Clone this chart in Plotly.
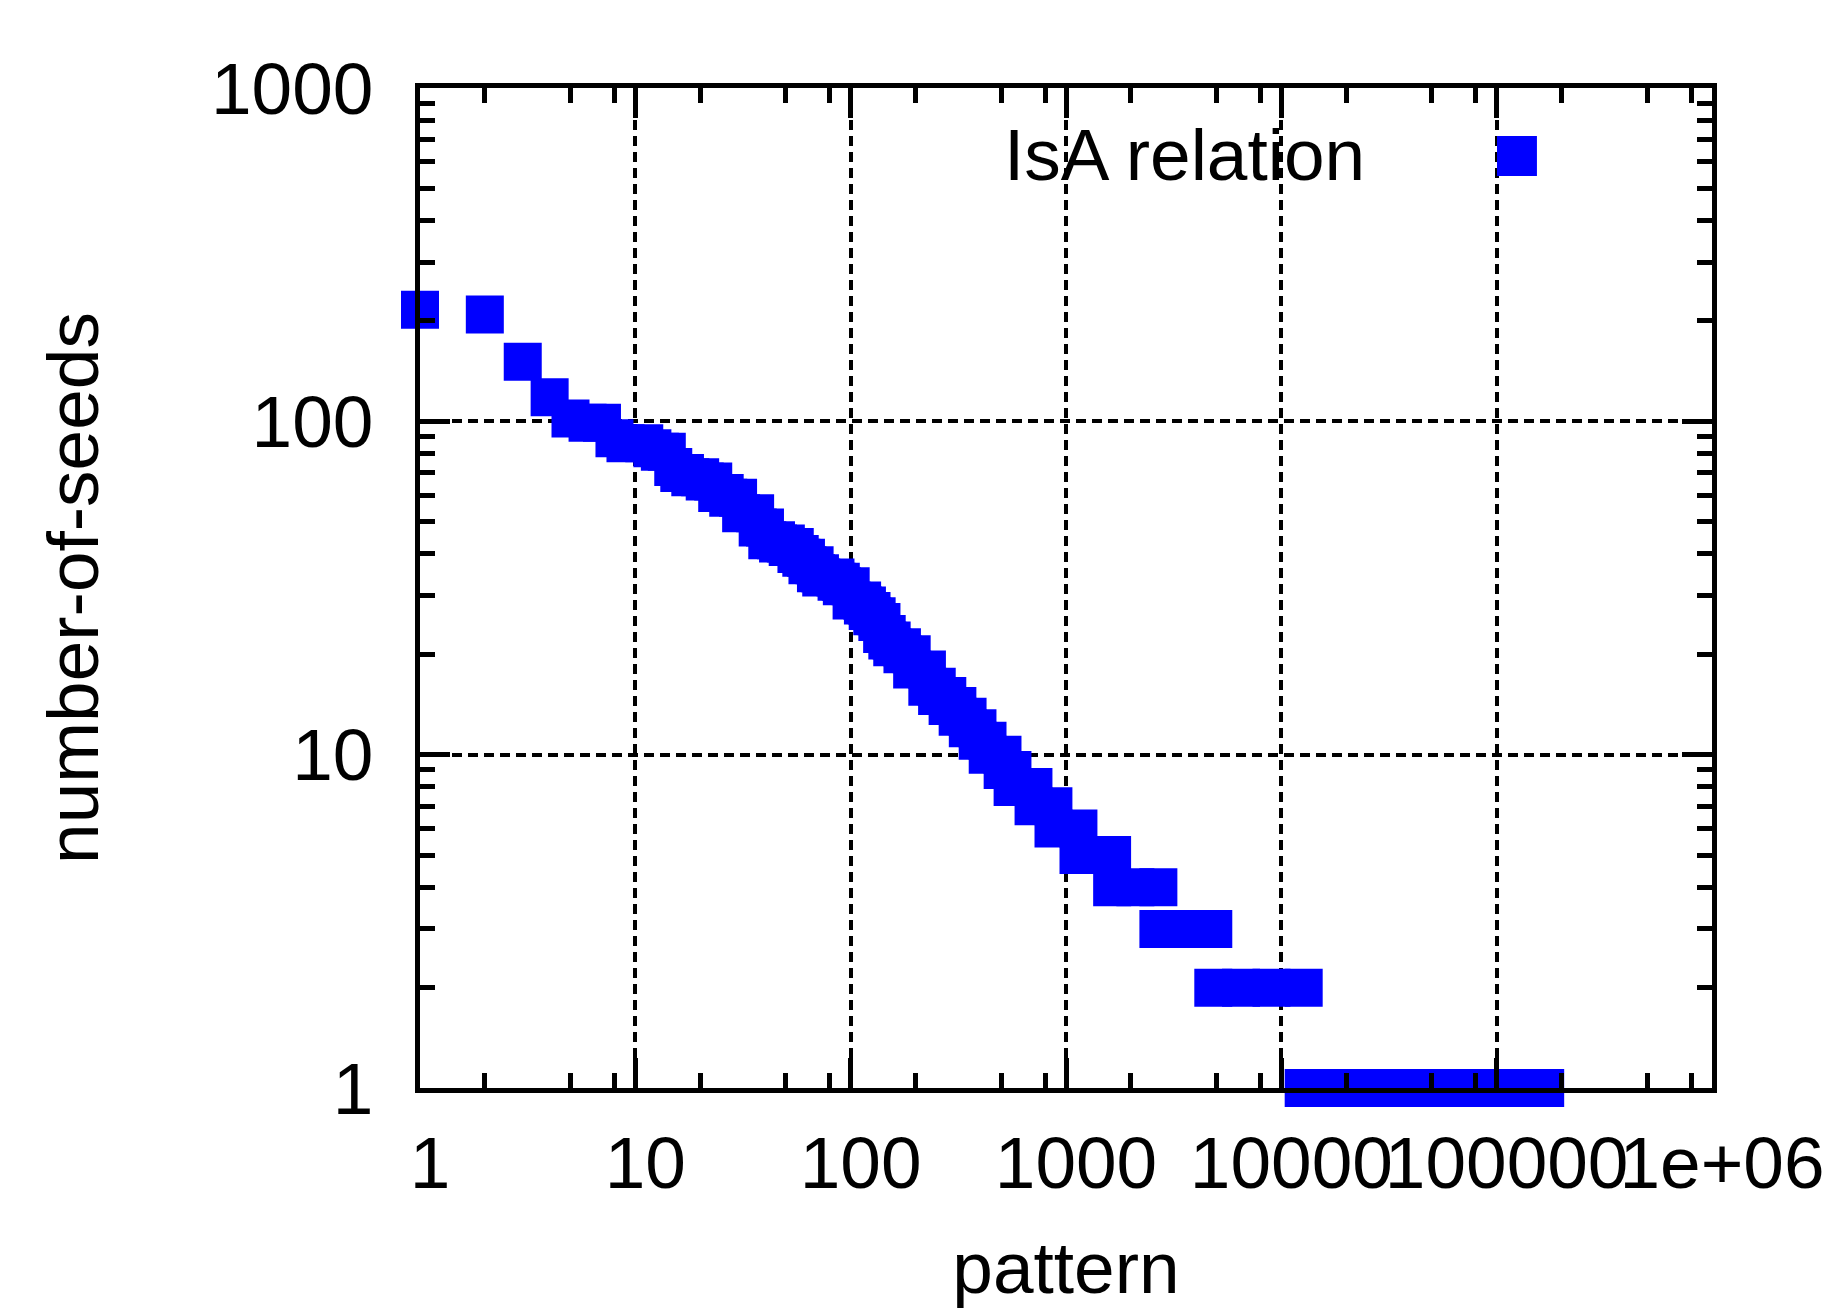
import plotly.graph_objects as go

# ---- data (rank of pattern -> number of seeds) ----
pattern = [1, 2, 3, 4, 5, 6, 7, 8, 9, 11, 12, 13, 14, 15, 16, 17, 18, 20, 21, 23,
           24, 26, 27, 30, 31, 36, 37, 40, 41, 45, 46, 50, 51, 55, 56, 58, 59, 62,
           63, 68, 69, 72, 73, 85, 86, 90, 91, 100, 101, 113, 114, 119, 120, 125,
           126, 132, 133, 139, 140, 147, 148, 155, 156, 173, 174, 192, 193, 226,
           227, 251, 252, 281, 282, 313, 314, 349, 350, 388, 389, 432, 433, 507,
           508, 564, 565, 706, 707, 874, 875, 1142, 1143, 1400, 1637, 1638, 2100,
           2685, 2686, 3600, 4830, 4831, 6500, 9000, 12700, 12701, 16000, 20000,
           25000, 32000, 40000, 50000, 63000, 80000, 100000, 125000, 150000, 168000]
seeds = [216, 209, 151, 118, 102, 99, 99, 89, 86, 86, 83, 81, 81, 73, 70, 70, 68, 68, 66, 66,
         61, 61, 59, 59, 53, 53, 48, 48, 44, 44, 43, 43, 42, 42, 40, 40, 39, 39,
         37, 37, 35, 35, 34, 34, 33, 33, 32, 32, 29, 29, 28, 28, 27, 27,
         26, 26, 25, 25, 23, 23, 22, 22, 21, 21, 20, 20, 18, 18,
         16, 16, 15, 15, 14, 14, 13, 13, 12, 12, 11, 11, 10, 10,
         9, 9, 8, 8, 7, 7, 6, 6, 5, 5, 5, 4, 4,
         4, 3, 3, 3, 2, 2, 2, 2, 1, 1, 1,
         1, 1, 1, 1, 1, 1, 1, 1, 1, 1]
assert len(pattern) == len(seeds)

series_name = "IsA relation"
x_title = "pattern"
y_title = "number-of-seeds"
x_tick_vals = [1, 10, 100, 1000, 10000, 100000, 1000000]
x_tick_text = ["1", "10", "100", "1000", "10000", "100000", "1e+06"]
y_tick_vals = [1, 10, 100, 1000]
y_tick_text = ["1", "10", "100", "1000"]
x_minor_mult = [2, 5, 8]
y_minor_mult = [2, 3, 4, 5, 6, 7, 8, 9]

x_minor = [m * 10 ** k for k in range(6) for m in x_minor_mult]
y_minor = [m * 10 ** k for k in range(3) for m in y_minor_mult]

FONT = "Liberation Sans, Arial, Helvetica, sans-serif"
FS = 73
BLUE = "#0000ff"

fig = go.Figure()
fig.add_trace(go.Scatter(
    x=pattern, y=seeds, mode="markers", name=series_name,
    marker=dict(symbol="square", size=38, color=BLUE, line=dict(width=0)),
    cliponaxis=False, showlegend=False,
))

def axis(ticks_v, ticks_t, minor_v, rng):
    return dict(
        type="log", range=rng, autorange=False,
        showline=True, linecolor="black", linewidth=5, mirror="ticks",
        ticks="inside", ticklen=30, tickwidth=4.5, tickcolor="black",
        tickmode="array", tickvals=ticks_v, ticktext=ticks_t, tickangle=0,
        tickfont=dict(family=FONT, size=FS, color="black"),
        showgrid=True, gridcolor="black", gridwidth=3.5, griddash="10px,6px",
        zeroline=False,
        minor=dict(tickmode="array", tickvals=minor_v, ticks="inside", ticklen=15,
                   tickwidth=4.5, tickcolor="black", showgrid=False),
    )

xa = axis(x_tick_vals, x_tick_text, x_minor, [0, 6])
xa.update(ticklabelstandoff=7, ticklabelshift=10,
          title=dict(text=x_title, font=dict(family=FONT, size=FS, color="black"), standoff=81))
ya = axis(y_tick_vals, y_tick_text, y_minor, [0, 3])
ya.update(ticklabelstandoff=27,
          title=dict(text=y_title, font=dict(family=FONT, size=FS, color="black"), standoff=90))

# the page adds an 8px body margin, so the figure is 8px smaller and margins are offset
fig.update_layout(
    width=1824, height=1300,
    margin=dict(l=412, r=120, t=80, b=220, autoexpand=False),
    paper_bgcolor="white", plot_bgcolor="white",
    xaxis=xa, yaxis=ya, showlegend=False,
    font=dict(family=FONT, size=FS, color="black"),
)

# key box: clears the grid behind it, then text + sample marker
fig.add_shape(type="rect", xref="paper", yref="paper", x0=0.26, x1=0.95, y0=0.891, y1=0.996,
              fillcolor="white", line=dict(width=0), layer="between")
fig.add_annotation(xref="paper", yref="paper", x=0.733, y=0.933, text=series_name,
                   showarrow=False, xanchor="right", yanchor="middle",
                   font=dict(family=FONT, size=FS, color="black"))
fig.add_shape(type="rect", xref="paper", yref="paper", x0=0.8336, x1=0.8645, y0=0.912, y1=0.952,
              fillcolor=BLUE, line=dict(width=0), layer="above")

fig.write_html("out.html")
